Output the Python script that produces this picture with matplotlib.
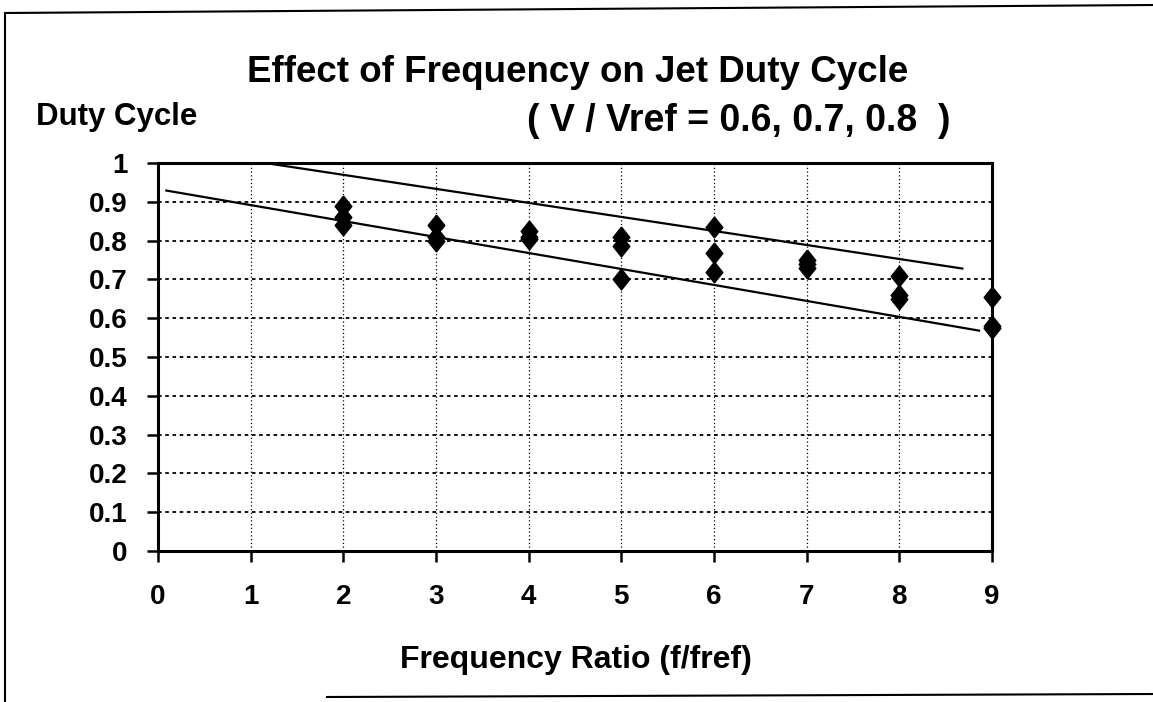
import matplotlib
matplotlib.use("Agg")
import matplotlib.pyplot as plt
from matplotlib.lines import Line2D

plt.rcParams['font.family'] = ['Liberation Sans', 'DejaVu Sans']
plt.rcParams['font.weight'] = 'bold'

# data
freq_ratio = [2, 2, 2, 3, 3, 3, 4, 4, 4, 5, 5, 5, 6, 6, 6, 7, 7, 7, 8, 8, 8, 9, 9, 9]
duty_cycle = [0.89, 0.86, 0.84, 0.84, 0.81, 0.80, 0.825, 0.81, 0.805,
              0.81, 0.785, 0.70, 0.835, 0.767, 0.718, 0.75, 0.74, 0.73,
              0.71, 0.66, 0.65, 0.655, 0.58, 0.575]
upper_line_x = [1.24, 8.68]
upper_line_y = [0.997, 0.728]
lower_line_x = [0.09, 8.86]
lower_line_y = [0.929, 0.568]
x_ticks = [0, 1, 2, 3, 4, 5, 6, 7, 8, 9]
y_ticks = [0, 0.1, 0.2, 0.3, 0.4, 0.5, 0.6, 0.7, 0.8, 0.9, 1]
y_tick_labels = ['0', '0.1', '0.2', '0.3', '0.4', '0.5', '0.6', '0.7', '0.8', '0.9', '1']

W, H = 1153, 702
fig = plt.figure(figsize=(W / 100, H / 100), dpi=100)
L, R, B, T = 158, 992, 551, 163
ax = fig.add_axes([L / W, 1 - B / H, (R - L) / W, (B - T) / H])

diamond = [(0, 1), (0.8, 0), (0, -1), (-0.8, 0), (0, 1)]

ax.plot(upper_line_x, upper_line_y, color='black', lw=1.6)
ax.plot(lower_line_x, lower_line_y, color='black', lw=1.6)
ax.plot(freq_ratio, duty_cycle, linestyle='none', marker=diamond, markersize=15,
        color='black', zorder=5, clip_on=False)

ax.set_xlim(0, 9)
ax.set_ylim(0, 1)
ax.set_xticks(x_ticks)
ax.set_yticks(y_ticks)
ax.set_yticklabels(y_tick_labels)
ax.xaxis.grid(True, color='black', linestyle=(0, (1, 2)), lw=0.9)
ax.yaxis.grid(True, color='black', linestyle=(0, (2, 2)), lw=1.3)
for sp in ax.spines.values():
    sp.set_linewidth(2.2)
    sp.set_color('black')
ax.tick_params(axis='both', direction='out', length=8, width=1.8, labelsize=20)
ax.tick_params(axis='x', pad=16)
ax.tick_params(axis='y', pad=14)
for lab in ax.get_xticklabels() + ax.get_yticklabels():
    lab.set_fontweight('bold')

ax.set_xlabel('Frequency Ratio (f/fref)', fontsize=23, fontweight='bold')
ax.xaxis.set_label_coords((576 - L) / (R - L), -(645 - B) / (B - T))

fig.text(578 / W, 1 - 82 / H, 'Effect of Frequency on Jet Duty Cycle', ha='center',
         va='baseline', fontsize=26.5, fontweight='bold')
fig.text(36 / W, 1 - 125 / H, 'Duty Cycle', ha='left', va='baseline',
         fontsize=22.5, fontweight='bold')
fig.text(527 / W, 1 - 131 / H, '( V / Vref = 0.6, 0.7, 0.8  )', ha='left',
         va='baseline', fontsize=27, fontweight='bold')

# outer frame of the scanned chart
fig.add_artist(Line2D([5 / W, 1.0], [1 - 13 / H, 1 - 5 / H], transform=fig.transFigure,
                      color='black', lw=1.5))
fig.add_artist(Line2D([5 / W, 5 / W], [1 - 13 / H, 0.0], transform=fig.transFigure,
                      color='black', lw=1.5))
fig.add_artist(Line2D([327 / W, 1.0], [1 - 697 / H, 1 - 694 / H], transform=fig.transFigure,
                      color='black', lw=1.5))

fig.savefig('out.png', dpi=100)
